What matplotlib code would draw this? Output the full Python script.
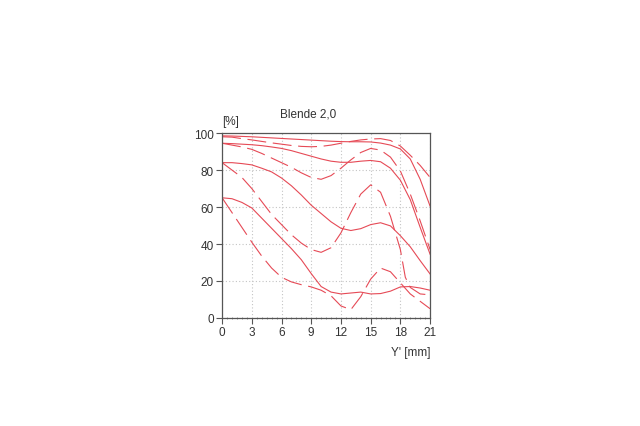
import matplotlib
matplotlib.use("Agg")
import matplotlib.pyplot as plt
from matplotlib.ticker import MultipleLocator

# image height Y' [mm] and MTF [%]
y_mm = list(range(22))

sag_10 = [98.5, 98.4, 98.2, 98.0, 97.7, 97.4, 97.1, 96.8, 96.5, 96.2, 95.9,
          95.6, 95.4, 95.3, 95.3, 95.2, 94.6, 93.5, 91.4, 86.0, 75.0, 60.5]
tan_10 = [98.0, 97.8, 97.0, 96.3, 95.5, 94.7, 94.0, 93.3, 92.8, 92.6, 92.8,
          93.5, 94.5, 95.5, 96.3, 96.8, 97.0, 96.0, 93.0, 88.0, 82.5, 76.0]
sag_20 = [94.5, 94.3, 94.0, 93.7, 93.2, 92.5, 91.7, 90.5, 89.0, 87.5, 86.0,
          84.8, 84.2, 84.2, 84.8, 85.2, 84.5, 81.0, 74.5, 64.0, 49.0, 34.5]
tan_20 = [94.5, 93.5, 92.5, 91.2, 89.0, 86.5, 84.0, 81.5, 78.5, 76.0, 75.0,
          77.0, 81.0, 85.5, 89.5, 91.7, 90.8, 87.0, 79.5, 67.0, 52.5, 37.0]
sag_40 = [84.0, 84.0, 83.5, 82.8, 81.0, 79.0, 75.7, 71.5, 66.5, 61.0, 56.5,
          52.0, 48.5, 47.3, 48.3, 50.5, 51.5, 49.8, 44.5, 38.5, 31.0, 23.8]
tan_40_x = [0, 1, 2, 3, 4, 5, 6, 7, 8, 9, 10, 11, 12, 13, 14, 15, 16, 17,
            18, 18.5, 19, 20, 21]
tan_40 = [84.0, 80.0, 76.0, 70.0, 63.0, 56.0, 50.5, 45.0, 40.5, 37.0, 35.5,
          38.0, 46.0, 57.0, 67.0, 72.0, 68.0, 55.0, 37.0, 22.0, 16.5, 13.0, 12.5]
sag_80 = [65.0, 64.5, 62.5, 59.5, 54.0, 48.5, 43.0, 37.5, 31.5, 24.0, 17.0,
          14.0, 13.0, 13.5, 14.0, 13.0, 13.2, 14.5, 16.8, 17.0, 16.2, 15.0]
tan_80 = [65.0, 57.0, 49.0, 41.0, 33.5, 27.0, 22.0, 19.5, 18.0, 16.8, 15.0,
          12.0, 6.5, 4.5, 11.5, 21.0, 27.0, 25.0, 19.0, 13.0, 9.0, 5.0]

solid_curves = [sag_10, sag_20, sag_40, sag_80]
dashed_curves = [(y_mm, tan_10), (y_mm, tan_20), (tan_40_x, tan_40),
                 (y_mm, tan_80)]

red = "#e64a56"
txt = "#333333"
plt.rcParams["font.family"] = ["Liberation Sans", "DejaVu Sans"]

fig = plt.figure(figsize=(6.4, 4.27), dpi=100)
ax = fig.add_axes([0.347, 0.253, 0.325, 0.433])

for ys in solid_curves:
    ax.plot(y_mm, ys, color=red, lw=0.8)
for xs, ys in dashed_curves:
    ax.plot(xs, ys, color=red, lw=0.8, dashes=(17, 6))

ax.set_xlim(0, 21)
ax.set_ylim(0, 100)
ax.xaxis.set_major_locator(MultipleLocator(3))
ax.yaxis.set_major_locator(MultipleLocator(20))
ax.xaxis.set_minor_locator(MultipleLocator(0.5))
ax.grid(True, which="major", color="#c4c4c4", ls=(0, (1, 2)), lw=0.8)
ax.tick_params(which="major", direction="out", length=4, width=0.8,
               color="#555555", labelsize=8.5, labelcolor=txt, pad=2)
ax.tick_params(axis="x", which="minor", direction="inout", length=2,
               width=0.6, color="#888888")
for s in ax.spines.values():
    s.set_color("#555555")
    s.set_linewidth(0.9)

ax.text(0.0, 1.035, "[%]", transform=ax.transAxes, fontsize=8.5, color=txt,
        ha="left", va="bottom")
ax.text(1.0, -0.15, "Y' [mm]", transform=ax.transAxes, fontsize=8.5,
        color=txt, ha="right", va="top")
ax.text(0.415, 1.075, "Blende 2,0", transform=ax.transAxes, fontsize=8.5,
        color=txt, ha="center", va="bottom")

fig.savefig("out.png", dpi=100)
